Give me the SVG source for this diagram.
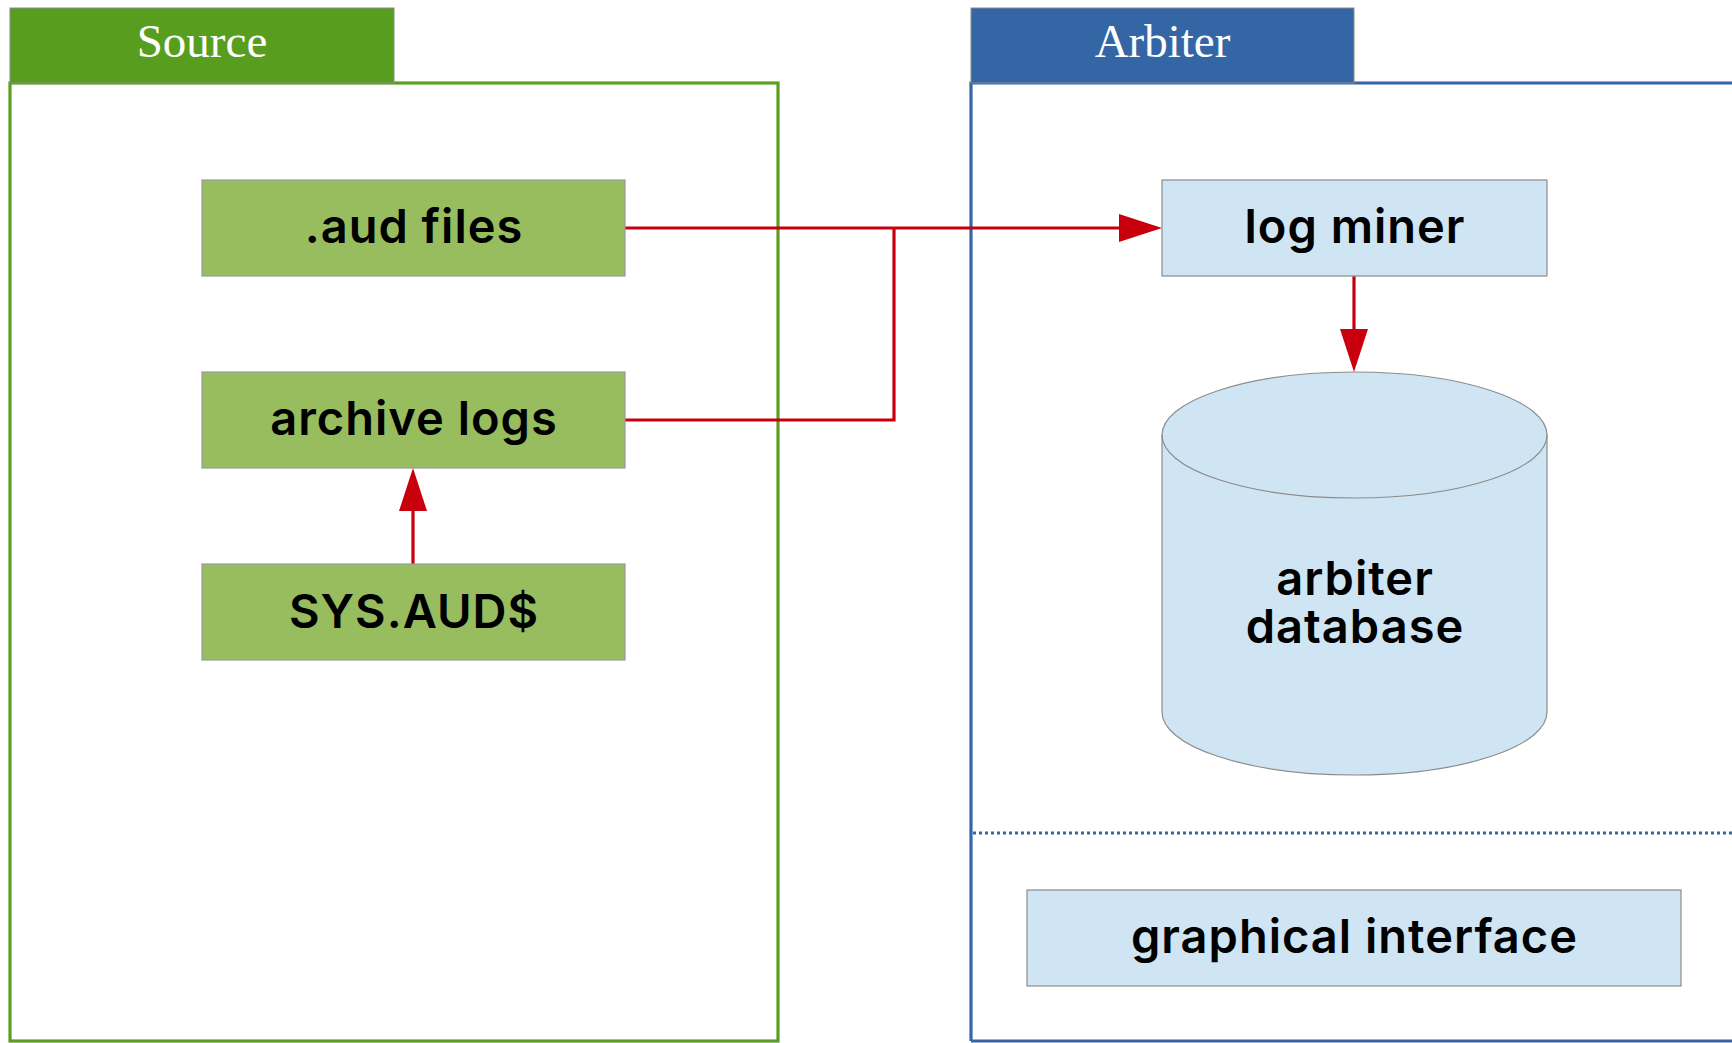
<svg xmlns="http://www.w3.org/2000/svg" width="1732" height="1043" viewBox="0 0 1732 1043">
<defs>
<style>
.tab-text{font-family:"Liberation Serif",serif;font-size:47px;fill:#ffffff;text-anchor:middle}
.lbl{font-family:Inter,"Liberation Sans",sans-serif;font-size:47px;font-weight:600;letter-spacing:1px;fill:#000000;text-anchor:middle}
.gnode{fill:#97bd5f;stroke:#9a9a9a;stroke-width:1.2}
.bnode{fill:#cfe5f3;stroke:#8c8c8c;stroke-width:1.2}
.conn{fill:none;stroke:#c8000e;stroke-width:3.2}
</style>
<marker id="arr" markerUnits="userSpaceOnUse" markerWidth="43" markerHeight="28" refX="33" refY="14" orient="auto">
<path d="M0,0 L43,14 L0,28 Z" fill="#c8000e"/>
</marker>
</defs>
<rect width="1732" height="1043" fill="#ffffff"/>

<g id="source-lane">
<rect x="10" y="83" width="768" height="958" fill="#ffffff" stroke="#5a9e22" stroke-width="3.2"/>
<rect x="10" y="8" width="384" height="75" fill="#589e1e" stroke="#8a8a8a" stroke-width="1"/>
<text class="tab-text" x="202" y="57">Source</text>
</g>

<g id="arbiter-lane">
<path d="M971,1041 V83 H1734" fill="none" stroke="#3465a6" stroke-width="3.2"/>
<path d="M971,1041 H1734" fill="none" stroke="#3465a6" stroke-width="3.2"/>
<rect x="971" y="8" width="383" height="75" fill="#3466a6" stroke="#8a8a8a" stroke-width="1"/>
<text class="tab-text" x="1162.5" y="57">Arbiter</text>
<line x1="973" y1="833" x2="1732" y2="833" stroke="#3465a6" stroke-width="3" stroke-dasharray="3,3"/>
</g>

<g id="connectors">
<line class="conn" x1="625" y1="228" x2="1152" y2="228" marker-end="url(#arr)"/>
<polyline class="conn" points="625,420 894,420 894,228"/>
<line class="conn" x1="413" y1="564" x2="413" y2="478" marker-end="url(#arr)"/>
<line class="conn" x1="1354" y1="276" x2="1354" y2="362" marker-end="url(#arr)"/>
</g>

<g id="node-aud-files">
<rect class="gnode" x="202" y="180" width="423" height="96"/>
<text class="lbl" x="414" y="243">.aud files</text>
</g>
<g id="node-archive-logs">
<rect class="gnode" x="202" y="372" width="423" height="96"/>
<text class="lbl" x="414" y="435">archive logs</text>
</g>
<g id="node-sys-aud">
<rect class="gnode" x="202" y="564" width="423" height="96"/>
<text class="lbl" x="414" y="628">SYS.AUD$</text>
</g>

<g id="node-log-miner">
<rect class="bnode" x="1162" y="180" width="385" height="96"/>
<text class="lbl" x="1355" y="243">log miner</text>
</g>

<g id="node-arbiter-database">
<path class="bnode" d="M1162,435 A192.5,63 0 0 1 1547,435 V712 A192.5,63 0 0 1 1162,712 Z"/>
<path d="M1162,435 A192.5,63 0 0 0 1547,435" fill="none" stroke="#8c8c8c" stroke-width="1.2"/>
<text class="lbl" x="1355" y="595">arbiter</text>
<text class="lbl" x="1355" y="643">database</text>
</g>

<g id="node-graphical-interface">
<rect class="bnode" x="1027" y="890" width="654" height="96"/>
<text class="lbl" x="1354.5" y="953">graphical interface</text>
</g>
</svg>
